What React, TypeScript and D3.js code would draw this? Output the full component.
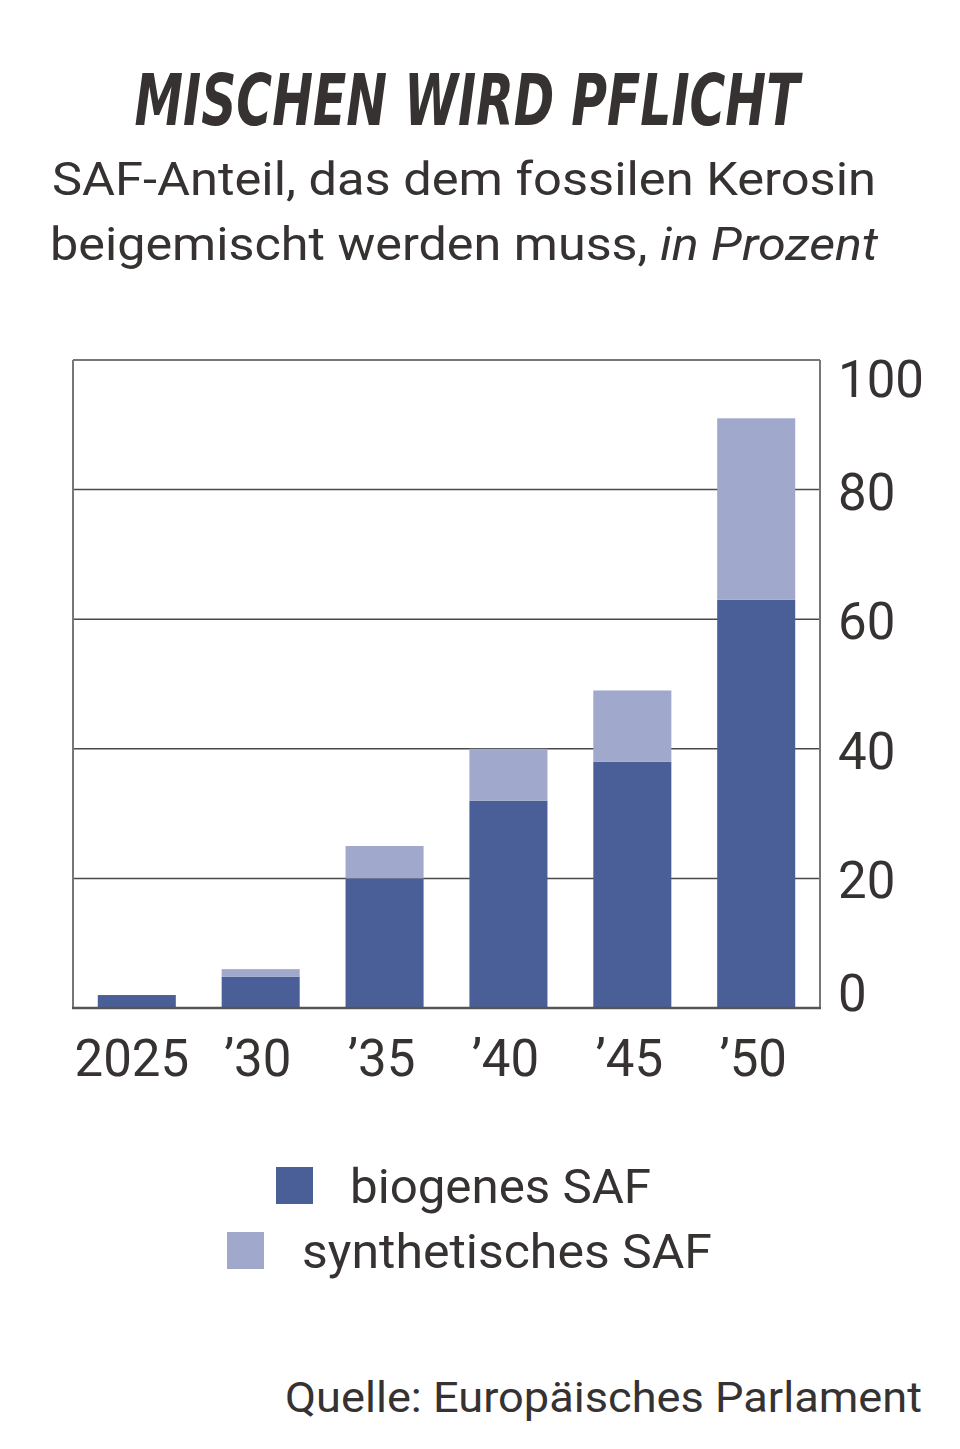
import React from 'react'
import * as d3 from 'd3'

const years = ['2025', '’30', '’35', '’40', '’45', '’50']
const biogenic = [2, 4.8, 20, 32, 38, 63]
const synthetic = [0, 1.2, 5, 8, 11, 28]
const yTicks = [0, 20, 40, 60, 80, 100]
const seriesLabels = ['biogenes SAF', 'synthetisches SAF']

const DARK = '#4a5f98'
const LIGHT = '#a0a8cc'
const INK = '#363231'
const FONT = 'Roboto, "Noto Sans", sans-serif'

const App: React.FC = () => {
  const width = 960
  const height = 1449

  const x = d3.scaleBand<string>()
    .domain(years)
    .range([73, 820])
    .paddingInner(0.37)
    .paddingOuter(0.2)

  const y = d3.scaleLinear().domain([0, 100]).range([1008, 360])

  const rows = years.map((yr, i) => ({ yr, bio: biogenic[i], syn: synthetic[i] }))

  // end labels sit inside the frame, the rest are centred on their gridline
  const labelShift = (t: number) => (t === 100 ? 37 : t === 0 ? 3 : 20)

  return (
    <svg width={width} height={height} style={{ display: 'block', margin: -8 }}>
      <rect width={width} height={height} fill="#fff" />

      {/* title + subtitle */}
      <text x={467} y={125} textAnchor="middle" fill={INK}
        fontFamily='"DejaVu Sans Condensed", sans-serif' fontWeight="bold" fontStyle="italic"
        fontSize={72} textLength={665} lengthAdjust="spacingAndGlyphs">MISCHEN WIRD PFLICHT</text>
      <text x={52} y={195} fill={INK} fontFamily={FONT} fontSize={46}
        textLength={824} lengthAdjust="spacingAndGlyphs">SAF-Anteil, das dem fossilen Kerosin</text>
      <text x={50} y={260} fill={INK} fontFamily={FONT} fontSize={46}
        textLength={828} lengthAdjust="spacingAndGlyphs">
        beigemischt werden muss, <tspan fontStyle="italic">in Prozent</tspan>
      </text>

      {/* gridlines */}
      {yTicks.filter(t => t > 0 && t < 100).map(t => (
        <line key={t} x1={73} x2={820} y1={y(t)} y2={y(t)} stroke="#4a4a4a" strokeWidth={1.5} />
      ))}

      {/* bars */}
      {rows.map(r => (
        <g key={r.yr}>
          <rect x={x(r.yr)} width={x.bandwidth()} y={y(r.bio)} height={y(0) - y(r.bio)} fill={DARK} />
          {r.syn > 0 && (
            <rect x={x(r.yr)} width={x.bandwidth()} y={y(r.bio + r.syn)}
              height={y(r.bio) - y(r.bio + r.syn)} fill={LIGHT} />
          )}
        </g>
      ))}

      {/* frame */}
      <line x1={73} x2={820} y1={y(100)} y2={y(100)} stroke="#777" strokeWidth={2} />
      <line x1={73} x2={73} y1={y(100)} y2={y(0)} stroke="#777" strokeWidth={2} />
      <line x1={820} x2={820} y1={y(100)} y2={y(0)} stroke="#777" strokeWidth={2} />
      <line x1={72} x2={821} y1={y(0)} y2={y(0)} stroke="#555" strokeWidth={2.5} />

      {/* y axis labels on the right */}
      {yTicks.map(t => (
        <text key={t} x={838} y={y(t) + labelShift(t)} fill={INK} fontFamily={FONT} fontSize={51}>{t}</text>
      ))}

      {/* x labels */}
      {years.map(yr => (
        <text key={yr} x={(x(yr) ?? 0) + x.bandwidth() / 2 - (yr === '2025' ? 5 : 3)} y={1076}
          textAnchor="middle" fill={INK} fontFamily={FONT} fontSize={51}>{yr}</text>
      ))}

      {/* legend */}
      <rect x={276} y={1167} width={37} height={37} fill={DARK} />
      <text x={350} y={1203} fill={INK} fontFamily={FONT} fontSize={48}
        textLength={301} lengthAdjust="spacingAndGlyphs">{seriesLabels[0]}</text>
      <rect x={227} y={1232} width={37} height={37} fill={LIGHT} />
      <text x={302} y={1268} fill={INK} fontFamily={FONT} fontSize={48}
        textLength={410} lengthAdjust="spacingAndGlyphs">{seriesLabels[1]}</text>

      {/* source */}
      <text x={922} y={1412} textAnchor="end" fill={INK} fontFamily={FONT} fontSize={42}
        textLength={637} lengthAdjust="spacingAndGlyphs">Quelle: Europäisches Parlament</text>
    </svg>
  )
}

export default App
